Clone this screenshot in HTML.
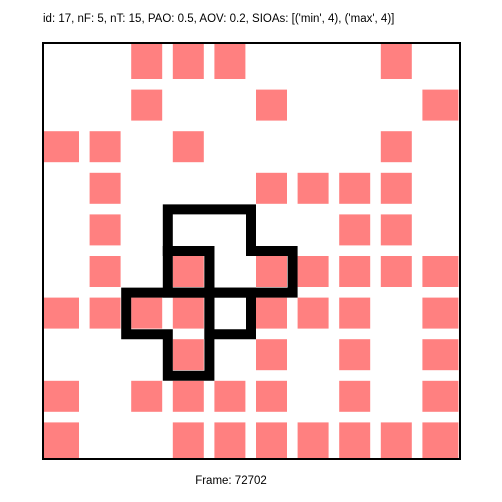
<!DOCTYPE html>
<html><head><meta charset="utf-8"><style>
html,body{margin:0;padding:0;background:#fff;width:502px;height:502px;overflow:hidden}
svg{display:block;font-family:"Liberation Sans",sans-serif}
</style></head><body>
<svg id="chart" width="502" height="502">
<text x="43" y="22" font-size="11.5" fill="#000">id: 17, nF: 5, nT: 15, PAO: 0.5, AOV: 0.2, SIOAs: [('min', 4), ('max', 4)]</text>
<text x="231" y="484" font-size="11.5" text-anchor="middle" fill="#000">Frame: 72702</text>
<g id="cells"></g>
<g id="outlines"></g>
<rect x="43" y="43" width="417" height="416" fill="none" stroke="#000" stroke-width="2"/>
</svg>
<script>
const rowCells = [
  [2,3,4,8],
  [2,5,9],
  [0,1,3,8],
  [1,5,6,7,8],
  [1,7,8],
  [1,3,5,6,7,8,9],
  [0,1,2,3,5,6,7,9],
  [3,5,7,9],
  [0,2,3,4,5,7,9],
  [0,3,4,5,6,7,8,9]
];
const regions = [
  [[4,3],[4,4],[5,4],[5,5]],
  [[5,3]],
  [[6,2],[6,3],[7,3]],
  [[6,4]]
];
const N = 10, X0 = 43, Y0 = 43, P = 41.6;
const sx = c => X0 + P*c, sy = r => Y0 + P*r;
const NS = 'http://www.w3.org/2000/svg';
const cg = document.getElementById('cells');
rowCells.forEach((cols, r) => cols.forEach(c => {
  let x = sx(c) + 5, w = 31, y = sy(r) + 5, h = 31;
  if (c === 0) { x = 44; w = 35; }
  if (c === N-1) { w = 36; }
  if (r === 0) { y = 44; h = 35; }
  if (r === N-1) { h = 36; }
  const el = document.createElementNS(NS, 'rect');
  el.setAttribute('x', x); el.setAttribute('y', y);
  el.setAttribute('width', w); el.setAttribute('height', h);
  el.setAttribute('fill', '#ff8080');
  
  
  cg.appendChild(el);
}));
const og = document.getElementById('outlines');
regions.forEach((reg, i) => {
  const has = (r, c) => reg.some(p => p[0] === r && p[1] === c);
  let d = '';
  reg.forEach(([r, c]) => {
    if (!has(r-1, c)) d += `M${sx(c)} ${sy(r)}H${sx(c+1)}`;
    if (!has(r+1, c)) d += `M${sx(c)} ${sy(r+1)}H${sx(c+1)}`;
    if (!has(r, c-1)) d += `M${sx(c)} ${sy(r)}V${sy(r+1)}`;
    if (!has(r, c+1)) d += `M${sx(c+1)} ${sy(r)}V${sy(r+1)}`;
  });
  const el = document.createElementNS(NS, 'path');
  el.setAttribute('d', d);
  el.setAttribute('fill', 'none');
  el.setAttribute('stroke', '#000');
  el.setAttribute('stroke-width', '10');
  el.setAttribute('stroke-linecap', 'square');
  
  
  og.appendChild(el);
});
</script>
</body></html>
